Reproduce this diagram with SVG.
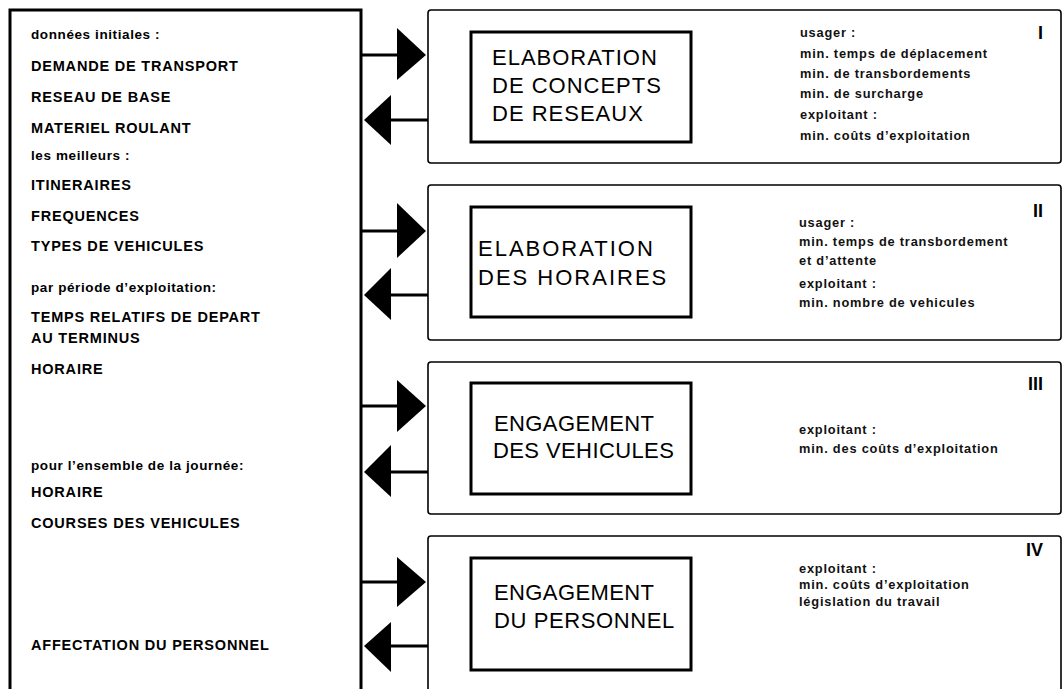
<svg xmlns="http://www.w3.org/2000/svg" width="1063" height="689" viewBox="0 0 1063 689">
<style>
.bg{fill:#fff}
.panel{fill:none;stroke:#000;stroke-width:3}
.outer{fill:#fff;stroke:#000;stroke-width:1.6}
.inner{fill:none;stroke:#000;stroke-width:3}
.shaft{stroke:#000;stroke-width:3}
.head{fill:#000}
.cap{font-family:"Liberation Sans",Arial,sans-serif;font-weight:bold;font-size:14.5px;letter-spacing:0.8px;fill:#000}
.lab{font-family:"Liberation Sans",Arial,sans-serif;font-weight:bold;font-size:13.5px;letter-spacing:0.6px;fill:#000}
.crit{font-family:"Liberation Sans",Arial,sans-serif;font-weight:bold;font-size:12.8px;letter-spacing:0.8px;fill:#111}
.title{font-family:"Liberation Sans",Arial,sans-serif;font-size:22px;letter-spacing:1px;fill:#000}
.title2{font-family:"Liberation Sans",Arial,sans-serif;font-size:22px;letter-spacing:2px;fill:#000}
.num{font-family:"Liberation Sans",Arial,sans-serif;font-weight:bold;font-size:18px;fill:#000;text-anchor:end}
</style>
<rect class="bg" x="0" y="0" width="1063" height="689"/>

<g id="donnees">
<path class="panel" d="M10,692 V10 H361 V692"/>
<text class="lab" x="31" y="39">données initiales :</text>
<text class="cap" x="31" y="71">DEMANDE DE TRANSPORT</text>
<text class="cap" x="31" y="102">RESEAU DE BASE</text>
<text class="cap" x="31" y="133">MATERIEL ROULANT</text>
<text class="lab" x="31" y="160">les meilleurs :</text>
<text class="cap" x="31" y="190">ITINERAIRES</text>
<text class="cap" x="31" y="221">FREQUENCES</text>
<text class="cap" x="31" y="251">TYPES DE VEHICULES</text>
<text class="lab" x="31" y="292">par période d’exploitation:</text>
<text class="cap" x="31" y="322">TEMPS RELATIFS DE DEPART</text>
<text class="cap" x="31" y="343">AU TERMINUS</text>
<text class="cap" x="31" y="374">HORAIRE</text>
<text class="lab" x="31" y="470">pour l’ensemble de la journée:</text>
<text class="cap" x="31" y="497">HORAIRE</text>
<text class="cap" x="31" y="528">COURSES DES VEHICULES</text>
<text class="cap" x="31" y="650">AFFECTATION DU PERSONNEL</text>
</g>

<g id="etape1">
<rect class="outer" x="428" y="10" width="633" height="153" rx="3"/>
<rect class="inner" x="471" y="32" width="220" height="110"/>
<text class="title" x="492" y="65">ELABORATION</text>
<text class="title" x="492" y="93">DE CONCEPTS</text>
<text class="title" x="492" y="121">DE RESEAUX</text>
<text class="crit" x="800" y="37">usager :</text>
<text class="crit" x="800" y="58">min. temps de déplacement</text>
<text class="crit" x="800" y="78">min. de transbordements</text>
<text class="crit" x="800" y="98">min. de surcharge</text>
<text class="crit" x="800" y="119">exploitant :</text>
<text class="crit" x="800" y="140">min. coûts d’exploitation</text>
<text class="num" x="1043" y="39">I</text>
</g>

<g id="etape2">
<rect class="outer" x="428" y="185" width="633" height="155" rx="3"/>
<rect class="inner" x="471" y="207" width="220" height="110"/>
<text class="title2" x="478" y="256">ELABORATION</text>
<text class="title2" x="478" y="285">DES HORAIRES</text>
<text class="crit" x="799" y="227">usager :</text>
<text class="crit" x="799" y="246">min. temps de transbordement</text>
<text class="crit" x="799" y="265">et d’attente</text>
<text class="crit" x="799" y="288">exploitant :</text>
<text class="crit" x="799" y="307">min. nombre de vehicules</text>
<text class="num" x="1043" y="217">II</text>
</g>

<g id="etape3">
<rect class="outer" x="428" y="362" width="633" height="152" rx="3"/>
<rect class="inner" x="471" y="383" width="220" height="111"/>
<text class="title" x="494" y="431" style="letter-spacing:0.4px">ENGAGEMENT</text>
<text class="title" x="493" y="458" style="letter-spacing:0.4px">DES VEHICULES</text>
<text class="crit" x="799" y="434">exploitant :</text>
<text class="crit" x="799" y="453">min. des coûts d’exploitation</text>
<text class="num" x="1043" y="390">III</text>
</g>

<g id="etape4">
<rect class="outer" x="428" y="536" width="633" height="160" rx="3"/>
<rect class="inner" x="471" y="558" width="220" height="112"/>
<text class="title" x="494" y="600" style="letter-spacing:0.4px">ENGAGEMENT</text>
<text class="title" x="494" y="628" style="letter-spacing:0.6px">DU PERSONNEL</text>
<text class="crit" x="799" y="573">exploitant :</text>
<text class="crit" x="799" y="589">min. coûts d’exploitation</text>
<text class="crit" x="799" y="606">législation du travail</text>
<text class="num" x="1043" y="556">IV</text>
</g>

<g id="connecteurs">
<line class="shaft" x1="361" y1="55" x2="400" y2="55"/>
<polygon class="head" points="397,28 426,55 397,80"/>
<line class="shaft" x1="428" y1="120" x2="388" y2="120"/>
<polygon class="head" points="391,95 364,120 391,145"/>

<line class="shaft" x1="361" y1="231" x2="400" y2="231"/>
<polygon class="head" points="397,203 426,231 397,258"/>
<line class="shaft" x1="428" y1="295" x2="388" y2="295"/>
<polygon class="head" points="391,268 364,295 391,320"/>

<line class="shaft" x1="361" y1="406" x2="400" y2="406"/>
<polygon class="head" points="397,380 426,406 397,432"/>
<line class="shaft" x1="428" y1="472" x2="388" y2="472"/>
<polygon class="head" points="391,445 364,472 391,497"/>

<line class="shaft" x1="361" y1="582" x2="400" y2="582"/>
<polygon class="head" points="397,557 426,582 397,607"/>
<line class="shaft" x1="428" y1="646" x2="388" y2="646"/>
<polygon class="head" points="391,622 364,646 391,672"/>
</g>
</svg>
